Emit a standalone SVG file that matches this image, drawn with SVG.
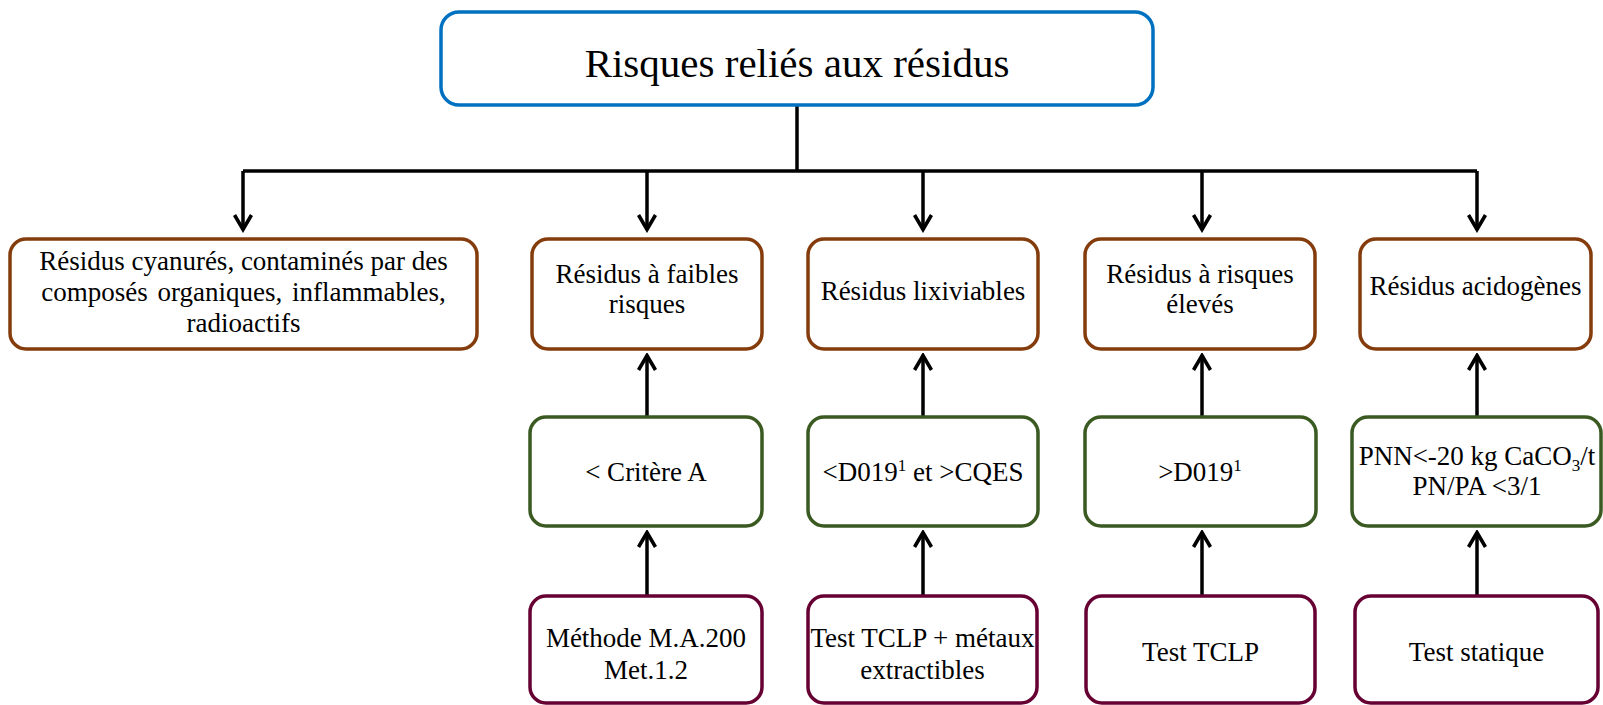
<svg xmlns="http://www.w3.org/2000/svg" width="1603" height="705" viewBox="0 0 1603 705">
  <style>
    .box { fill: #ffffff; stroke-width: 3.5; }
    .root { stroke: #0070C0; }
    .cat { stroke: #843C0C; }
    .crit { stroke: #3A5A22; }
    .test { stroke: #660033; }
    .lbl { font-family: "Liberation Serif", "Times New Roman", serif; font-size: 27px; fill: #000000; text-anchor: middle; }
    .title { font-size: 41px; }
    .sup { font-size: 17px; }
    .conn { fill: none; stroke: #000000; stroke-width: 3.5; }
  </style>
  <defs>
    <marker id="arrow" viewBox="0 0 20 20" refX="17" refY="10" markerWidth="20" markerHeight="20" markerUnits="userSpaceOnUse" orient="auto">
      <path d="M2.5,1.5 L17,10 L2.5,18.5" fill="none" stroke="#000000" stroke-width="3.6"/>
    </marker>
  </defs>
  <rect width="1603" height="705" fill="#ffffff"/>

  <!-- connectors -->
  <g id="connectors" class="conn">
    <path d="M797,105 V171"/>
    <path d="M243,171 H1477"/>
    <path d="M243,171 V229.5" marker-end="url(#arrow)"/>
    <path d="M647,171 V229.5" marker-end="url(#arrow)"/>
    <path d="M923,171 V229.5" marker-end="url(#arrow)"/>
    <path d="M1202,171 V229.5" marker-end="url(#arrow)"/>
    <path d="M1477,171 V229.5" marker-end="url(#arrow)"/>
    <path d="M647,417 V355.5" marker-end="url(#arrow)"/>
    <path d="M923,417 V355.5" marker-end="url(#arrow)"/>
    <path d="M1202,417 V355.5" marker-end="url(#arrow)"/>
    <path d="M1477,417 V355.5" marker-end="url(#arrow)"/>
    <path d="M647,596 V532.5" marker-end="url(#arrow)"/>
    <path d="M923,596 V532.5" marker-end="url(#arrow)"/>
    <path d="M1202,596 V532.5" marker-end="url(#arrow)"/>
    <path d="M1477,596 V532.5" marker-end="url(#arrow)"/>
  </g>

  <!-- root -->
  <g id="root">
    <rect class="box root" x="441" y="12" width="712" height="93" rx="18"/>
    <text class="lbl title" x="797" y="77">Risques reliés aux résidus</text>
  </g>

  <!-- categories -->
  <g id="cat-special">
    <rect class="box cat" x="10" y="239" width="467" height="110" rx="16"/>
    <text class="lbl" x="243.5" y="270">Résidus cyanurés, contaminés par des</text>
    <text class="lbl" x="243.5" y="301" word-spacing="3">composés organiques, inflammables,</text>
    <text class="lbl" x="243.5" y="332">radioactifs</text>
  </g>
  <g id="cat-low">
    <rect class="box cat" x="532" y="239" width="230" height="110" rx="16"/>
    <text class="lbl" x="647" y="283">Résidus à faibles</text>
    <text class="lbl" x="647" y="313">risques</text>
  </g>
  <g id="cat-leach">
    <rect class="box cat" x="808" y="239" width="230" height="110" rx="16"/>
    <text class="lbl" x="923" y="300">Résidus lixiviables</text>
  </g>
  <g id="cat-high">
    <rect class="box cat" x="1085" y="239" width="230" height="110" rx="16"/>
    <text class="lbl" x="1200" y="283">Résidus à risques</text>
    <text class="lbl" x="1200" y="313">élevés</text>
  </g>
  <g id="cat-acid">
    <rect class="box cat" x="1360" y="239" width="231" height="110" rx="16"/>
    <text class="lbl" x="1475.5" y="295">Résidus acidogènes</text>
  </g>

  <!-- criteria -->
  <g id="crit-low">
    <rect class="box crit" x="530" y="417" width="232" height="109" rx="16"/>
    <text class="lbl" x="646" y="481">&lt; Critère A</text>
  </g>
  <g id="crit-leach">
    <rect class="box crit" x="808" y="417" width="230" height="109" rx="16"/>
    <text class="lbl" x="923" y="481">&lt;D019<tspan class="sup" dy="-10">1</tspan><tspan dy="10"> et &gt;CQES</tspan></text>
  </g>
  <g id="crit-high">
    <rect class="box crit" x="1085" y="417" width="231" height="109" rx="16"/>
    <text class="lbl" x="1200" y="481">&gt;D019<tspan class="sup" dy="-10">1</tspan></text>
  </g>
  <g id="crit-acid">
    <rect class="box crit" x="1352" y="417" width="249" height="109" rx="16"/>
    <text class="lbl" x="1477" y="465">PNN&lt;-20 kg CaCO<tspan class="sup" dy="6">3</tspan><tspan dy="-6">/t</tspan></text>
    <text class="lbl" x="1477" y="495">PN/PA &lt;3/1</text>
  </g>

  <!-- test methods -->
  <g id="test-low">
    <rect class="box test" x="530" y="596" width="232" height="107" rx="16"/>
    <text class="lbl" x="646" y="647">Méthode M.A.200</text>
    <text class="lbl" x="646" y="679">Met.1.2</text>
  </g>
  <g id="test-leach">
    <rect class="box test" x="808" y="596" width="229" height="107" rx="16"/>
    <text class="lbl" x="922.5" y="647">Test TCLP + métaux</text>
    <text class="lbl" x="922.5" y="679">extractibles</text>
  </g>
  <g id="test-high">
    <rect class="box test" x="1086" y="596" width="229" height="107" rx="16"/>
    <text class="lbl" x="1200.5" y="661">Test TCLP</text>
  </g>
  <g id="test-acid">
    <rect class="box test" x="1355" y="596" width="243" height="107" rx="16"/>
    <text class="lbl" x="1476.5" y="661">Test statique</text>
  </g>
</svg>
